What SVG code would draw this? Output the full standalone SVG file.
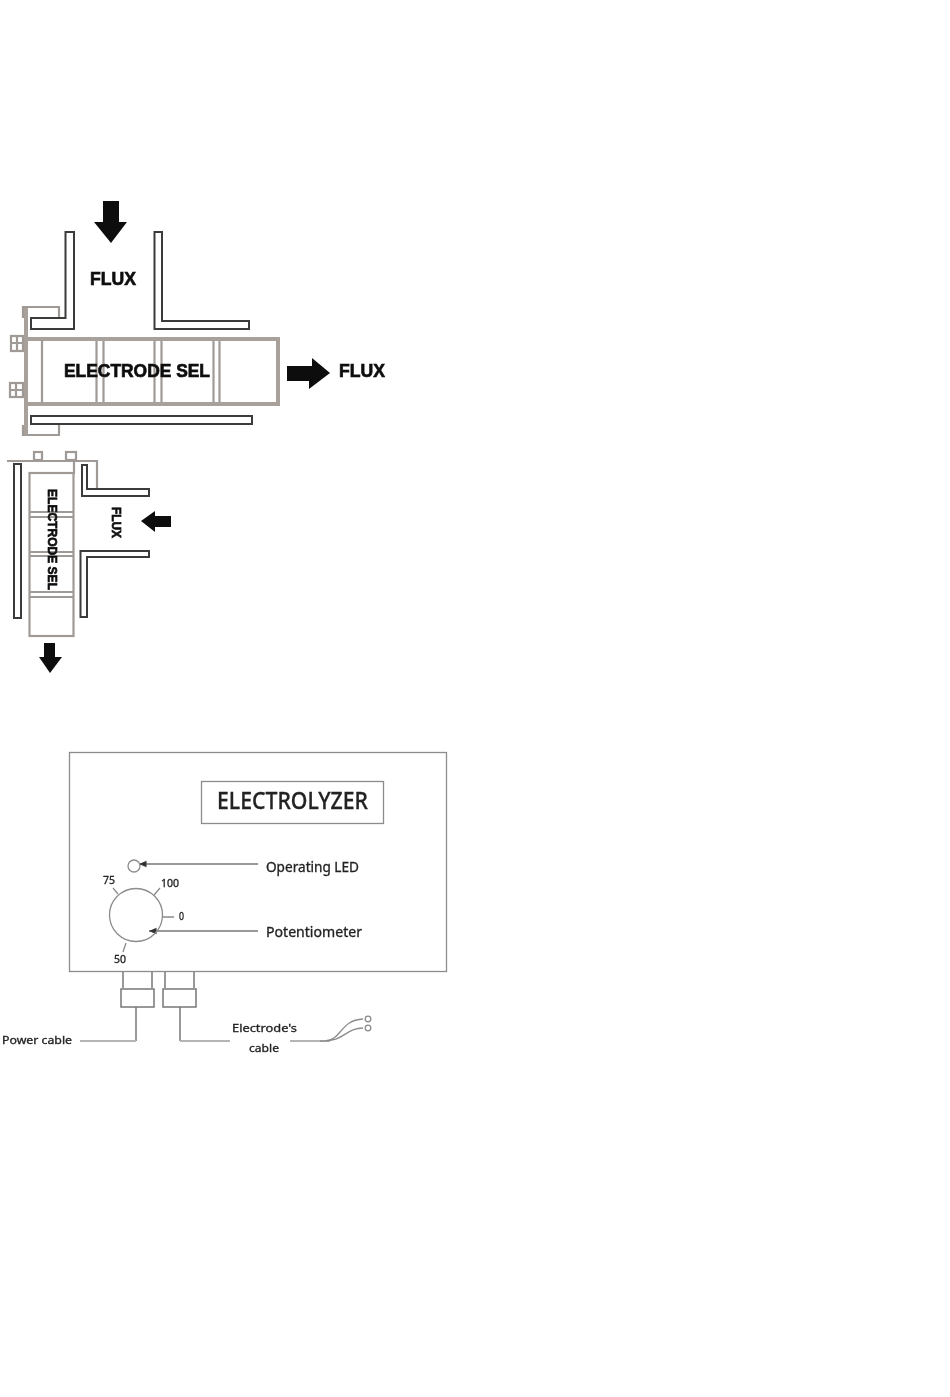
<svg xmlns="http://www.w3.org/2000/svg" width="950" height="1397" viewBox="0 0 950 1397">
<style>
.d{fill:#fff;stroke:#3a3a3a;stroke-width:2}
.g{fill:none;stroke:#a09a96;stroke-width:2.200}
.g3{fill:none;stroke:#a8a09a;stroke-width:4}
.p{fill:none;stroke:#8c8c8c;stroke-width:1.300}
.c{fill:none;stroke:#777;stroke-width:1.500}
.h{fill:none;stroke:#b5b5b5;stroke-width:2.200}
.a{fill:#111}
.b{font-family:"Liberation Sans",Arial,sans-serif;font-weight:700;fill:#111;stroke:#111;stroke-width:.7}
.t{font-family:"Noto Sans","Open Sans",sans-serif;fill:#222;stroke:#222;stroke-width:.3}
</style>
<defs>
<filter id="s" x="0" y="0" width="100%" height="100%" filterUnits="userSpaceOnUse" primitiveUnits="userSpaceOnUse"><feGaussianBlur stdDeviation="0.7"/></filter>
<marker id="m" markerWidth="6" markerHeight="6" refX="5" refY="3" orient="auto"><path d="M0 .8 L5 3 L0 5.2Z" fill="#333"/></marker>
</defs>
<rect width="950" height="1397" fill="#fff"/>
<g filter="url(#s)">
<g id="top-assembly">
<path class="g" d="M23 318V307H59V318M23 425V435H59V425"/>
<path class="g3" d="M26 308V435"/>
<path class="d" d="M65.500 232H74V329H31V318H65.500Z"/>
<path class="d" d="M154.500 232H162V321H249V329H154.500Z"/>
<path class="g3" d="M28 339H278V404H28"/>
<path class="g" d="M42 340V403"/>
<path class="g" d="M96.500 341V402M103.500 341V402M154.500 341V402M161.500 341V402M213.500 341V402M219.500 341V402"/>
<rect class="g" x="11" y="336" width="12" height="15"/>
<path class="g" d="M11 343H23M17 336V351"/>
<rect class="g" x="10" y="383" width="13" height="14"/>
<path class="g" d="M10 390H23M16 383V397"/>
<rect class="d" x="31" y="416" width="221" height="8"/>
<path class="a" d="M103 201H119V222H127L111 243L94 222H103Z"/>
<path class="a" d="M287 366H312V358L330 373L309 389V381H287Z"/>
<text class="b" x="90" y="285" font-size="19" textLength="46" lengthAdjust="spacingAndGlyphs">FLUX</text>
<text class="b" x="64" y="377" font-size="19" textLength="146" lengthAdjust="spacingAndGlyphs">ELECTRODE SEL</text>
<text class="b" x="339" y="377" font-size="19" textLength="46" lengthAdjust="spacingAndGlyphs">FLUX</text>
</g>
<g id="bottom-assembly">
<path class="g" d="M7 461H97V489"/>
<rect class="d" x="14" y="464" width="7" height="154"/>
<rect class="g" x="29.500" y="473" width="44" height="163"/>
<path class="g" d="M74 461V474"/>
<path class="g" d="M30 512H73M30 517H73M30 552H73M30 556H73M30 592H73M30 597H73"/>
<rect class="g" x="34" y="452" width="8" height="8"/>
<rect class="g" x="66" y="452" width="10" height="8"/>
<path class="d" d="M82 465H87V489H149V496H82Z"/>
<path class="d" d="M82 551H149V557H87V617H80.500V551Z"/>
<path class="a" d="M171 516V527H155V532L141 521L155 511V516Z"/>
<path class="a" d="M44 643H55V657H62L50 673L39 657H44Z"/>
<text class="b" transform="translate(112 507) rotate(90)" font-size="13" textLength="31" lengthAdjust="spacingAndGlyphs">FLUX</text>
<text class="b" transform="translate(48 489) rotate(90)" font-size="13" textLength="101" lengthAdjust="spacingAndGlyphs">ELECTRODE SEL</text>
</g>
<g id="connectors">
<path class="c" d="M258 864H139" marker-end="url(#m)"/>
<path class="c" d="M258 931H149" marker-end="url(#m)"/>
<path class="p" d="M113 888L118 894M160 888L154 895M163 917H174M126 943L123 952"/>
<path class="c" d="M136 1007V1041"/>
<path class="h" d="M136 1041H80"/>
<path class="c" d="M180 1007V1041"/>
<path class="h" d="M180 1041H230"/>
<path class="c" d="M123 972V988M152 972V988M165 972V988M194 972V988"/>
<path class="h" d="M290 1041H330"/>
<path class="p" d="M325 1041C342 1040 340 1020 363 1019M320 1041C345 1042 345 1028 363 1028"/>
</g>
<g id="electrolyzer">
<rect class="p" x="69.500" y="752.500" width="377" height="219"/>
<rect class="p" x="201.500" y="781.500" width="182" height="42"/>
<text class="t" x="217" y="809" font-size="24" font-weight="500" textLength="151" lengthAdjust="spacingAndGlyphs">ELECTROLYZER</text>
</g>
<g id="led"><circle class="p" cx="134" cy="866" r="6"/>
<text class="t" x="266" y="872" font-size="13.500" textLength="93" lengthAdjust="spacingAndGlyphs">Operating LED</text></g>
<g id="potentiometer"><circle class="p" cx="136" cy="915" r="26.500"/>
<text class="t" x="266" y="937" font-size="13.500" textLength="96" lengthAdjust="spacingAndGlyphs">Potentiometer</text>
<text class="t" x="103" y="884" font-size="10.500" textLength="12" lengthAdjust="spacingAndGlyphs">75</text>
<text class="t" x="161" y="887" font-size="10.500" textLength="18" lengthAdjust="spacingAndGlyphs">100</text>
<text class="t" x="179" y="920" font-size="10.500" textLength="5" lengthAdjust="spacingAndGlyphs">0</text>
<text class="t" x="114" y="963" font-size="10.500" textLength="12" lengthAdjust="spacingAndGlyphs">50</text></g>
<g id="gland-power"><rect class="c" x="121" y="989" width="33" height="18"/>
<text class="t" x="2" y="1044" font-size="11" textLength="70" lengthAdjust="spacingAndGlyphs">Power cable</text></g>
<g id="gland-electrode"><rect class="c" x="163" y="989" width="33" height="18"/>
<text class="t" x="232" y="1032" font-size="11" textLength="65" lengthAdjust="spacingAndGlyphs">Electrode's</text>
<text class="t" x="249" y="1052" font-size="11" textLength="30" lengthAdjust="spacingAndGlyphs">cable</text>
<circle class="p" cx="368" cy="1019" r="2.800"/><circle class="p" cx="368" cy="1028" r="2.800"/></g>
</g>
</svg>
